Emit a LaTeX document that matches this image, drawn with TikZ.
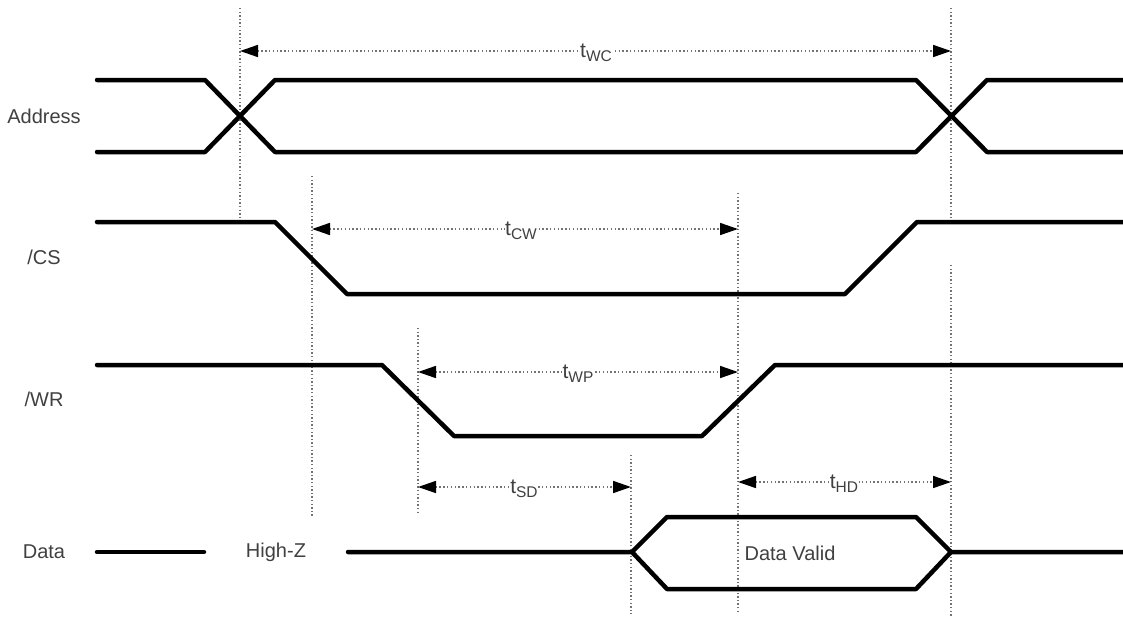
\documentclass[tikz,border=0pt]{standalone}
\usepackage{fontspec}
\setmainfont{Liberation Sans}
\usetikzlibrary{arrows.meta}
\newcommand{\tsub}[1]{t\raisebox{-0.35ex}{\fontsize{15.5}{15.5}\selectfont #1}}
\begin{document}
\begin{tikzpicture}[x=1pt,y=-1pt,
  sig/.style={line width=4.5pt,line cap=round,line join=round,black},
  vguide/.style={line width=1.6pt,dash pattern=on 1.4pt off 2.2pt,black!55},
  dim/.style={line width=1.6pt,dash pattern=on 1.4pt off 2.4pt,black!55,
     {Triangle[length=18pt,width=12pt,color=black]}-{Triangle[length=18pt,width=12pt,color=black]}},
  lbl/.style={font=\fontsize{20}{22}\selectfont,text=black!75,inner sep=1pt},
  tlbl/.style={font=\fontsize{21}{22}\selectfont,text=black!75,fill=white,inner sep=0.5pt}]
\useasboundingbox (0,0) rectangle (1123,618);

% vertical guides
\coordinate (g1t) at (240,8);   \coordinate (g1b) at (240,218);
\coordinate (g2t) at (951,8);   \coordinate (g2b) at (951,218);
\coordinate (g2t2) at (951,265); \coordinate (g2b2) at (951,616);
\coordinate (g3t) at (312,176); \coordinate (g3b) at (312,517);
\coordinate (g4t) at (418,328); \coordinate (g4b) at (418,512);
\coordinate (g5t) at (738,193); \coordinate (g5b) at (738,614);
\coordinate (g6t) at (631,455); \coordinate (g6b) at (631,614);
\draw[vguide] (g1t) -- (g1b);
\draw[vguide] (g2t) -- (g2b);
\draw[vguide] (g2t2) -- (g2b2);
\draw[vguide] (g3t) -- (g3b);
\draw[vguide] (g4t) -- (g4b);
\draw[vguide] (g5t) -- (g5b);
\draw[vguide] (g6t) -- (g6b);

% row labels
\node[lbl] (lAddr) at (44,116) {Address};
\node[lbl] (lCS) at (44,257) {/CS};
\node[lbl] (lWR) at (44,399) {/WR};
\node[lbl] (lData) at (44,552) {Data};

% Address
\draw[sig] (97,80) -- (205,80) -- (275,152) -- (916,152) -- (987,80) -- (1123,80);
\draw[sig] (97,152) -- (205,152) -- (275,80) -- (916,80) -- (987,152) -- (1123,152);

% /CS
\draw[sig] (97,222) -- (275,222) -- (347,294) -- (845,294) -- (917,222) -- (1123,222);

% /WR
\draw[sig] (97,365) -- (382,365) -- (454,436) -- (702,436) -- (775,365) -- (1123,365);

% Data
\draw[sig] (97,552) -- (204,552);
\node[lbl] (hz) at (276,552) {High-Z};
\draw[sig] (348,552) -- (632,552) -- (667,517) -- (916,517) -- (951,552) -- (1123,552);
\draw[sig] (632,552) -- (667,589) -- (916,589) -- (951,552);
\node[lbl] (dv) at (790,553) {Data Valid};

% dimension arrows
\coordinate (aWCl) at (240,51);  \coordinate (aWCr) at (951,51);
\coordinate (aCWl) at (312,229); \coordinate (aCWr) at (738,229);
\coordinate (aWPl) at (418,372); \coordinate (aWPr) at (738,372);
\coordinate (aSDl) at (418,487); \coordinate (aSDr) at (631,487);
\coordinate (aHDl) at (738,482); \coordinate (aHDr) at (951,482);
\draw[dim] (aWCl) -- (aWCr);
\draw[dim] (aCWl) -- (aCWr);
\draw[dim] (aWPl) -- (aWPr);
\draw[dim] (aSDl) -- (aSDr);
\draw[dim] (aHDl) -- (aHDr);
\node[tlbl] (tWC) at (596,53) {\tsub{WC}};
\node[tlbl] (tCW) at (521,231) {\tsub{CW}};
\node[tlbl] (tWP) at (578,374) {\tsub{WP}};
\node[tlbl] (tSD) at (524,489) {\tsub{SD}};
\node[tlbl] (tHD) at (844,484) {\tsub{HD}};
\end{tikzpicture}
\end{document}
